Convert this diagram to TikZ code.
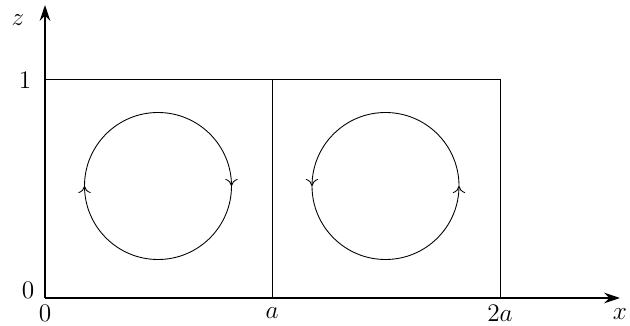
\documentclass[tikz,border=0pt]{standalone}
\usepackage{tikz}
\usetikzlibrary{arrows.meta,decorations.markings,positioning}
\tikzset{
  axis_line/.style={-{Stealth[length=9pt,width=6pt]},line width=1.3pt},
  cell_line/.style={line width=0.5pt},
  roll/.style={line width=0.5pt,decoration={markings,
    mark=at position 0.25 with {\arrow{To[length=4pt,width=7pt]}},
    mark=at position 0.75 with {\arrow{To[length=4pt,width=7pt]}}},postaction={decorate}},
  lbl/.style={font=\Large,inner sep=1pt},
}
\begin{document}
\begin{tikzpicture}
  \useasboundingbox (-0.9,-0.54) rectangle (11.7,5.96);

  % cells
  \draw[cell_line] (0,4.38) -- (9.1,4.38) -- (9.1,0);
  \draw[cell_line] (4.54,4.38) -- (4.54,0);

  % rolls (left clockwise, right counter-clockwise)
  \draw[roll] (2.26,3.71) arc[start angle=90,end angle=-270,radius=1.47];
  \draw[roll] (6.81,3.71) arc[start angle=90,end angle=450,radius=1.47];

  % axes
  \draw[axis_line] (0,0) -- (11.5,0);
  \draw[axis_line] (0,0) -- (0,5.86);

  \node[lbl] (zlab) at (-0.54,5.56) {$z$};
  \node[lbl] (one) at (-0.4,4.36) {$1$};
  \node[lbl] (zero_z) at (-0.34,0.16) {$0$};
  \node[lbl] (zero_x) at (0,-0.3) {$0$};
  \node[lbl] (alab) at (4.54,-0.3) {$a$};
  \node[lbl] (twoa) at (9.1,-0.3) {$2a$};
  \node[lbl] (xlab) at (11.5,-0.32) {$x$};
\end{tikzpicture}
\end{document}
